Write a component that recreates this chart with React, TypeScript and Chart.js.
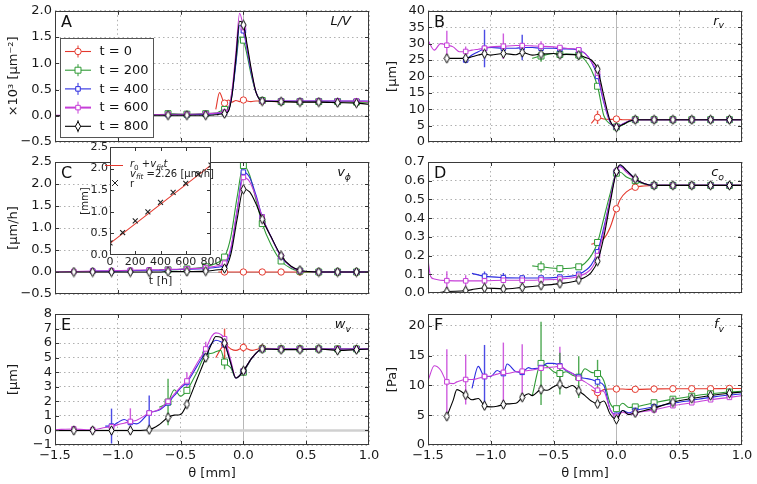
import React, { useEffect, useRef } from 'react';
import { Chart, registerables } from 'chart.js';

Chart.register(...registerables);

const FONT = '"DejaVu Sans", "Noto Sans", sans-serif';
const WIDTH = 757;
const HEIGHT = 484;
const n = null;

// ---------- series meta ----------
const SERIES_LABELS = ['t = 0', 't = 200', 't = 400', 't = 600', 't = 800'];
const SERIES_COLORS = ['#e4382d', '#2f9a35', '#2b2be0', '#c63fd8', '#000000'];
const SERIES_MARKERS = ['circle', 'rect', 'rect', 'rect', 'thinDiamond'];
const SERIES_MARKER_SIZE = [3.2, 4.2, 3.2, 3.2, 4];

// ---------- Panel A : L/V ----------
const XA = [-1.5, -1.35, -1.2, -1.05, -0.9, -0.75, -0.6, -0.45, -0.3, -0.22, -0.19, -0.15, -0.12, -0.09, -0.06, -0.03, 0, 0.03, 0.06, 0.1, 0.15, 0.3, 0.45, 0.6, 0.75, 0.9, 1.0];
const A_T0 = [n, n, n, n, n, n, n, n, n, 0.12, 0.44, 0.24, 0.3, 0.26, 0.29, 0.27, 0.3, 0.28, 0.27, 0.28, 0.28, 0.27, 0.27, 0.27, 0.27, 0.27, 0.27];
const A_T200 = [n, n, n, n, n, n, 0.04, 0.03, 0.04, 0.05, 0.08, 0.12, 0.15, 0.45, 1.0, 1.5, 1.44, 1.15, 0.8, 0.45, 0.29, 0.27, 0.27, 0.27, 0.27, 0.26, 0.26];
const A_T400 = [n, n, n, 0.01, 0.01, 0.02, 0.02, 0.02, 0.03, 0.04, 0.05, 0.06, 0.1, 0.4, 1.0, 1.72, 1.62, 1.25, 0.85, 0.45, 0.28, 0.28, 0.28, 0.28, 0.28, 0.28, 0.28];
const A_T600 = [0.01, 0.01, 0.01, 0.02, 0.02, 0.02, 0.03, 0.03, 0.04, 0.05, 0.06, 0.07, 0.12, 0.5, 1.2, 1.95, 1.68, 1.3, 0.9, 0.45, 0.28, 0.28, 0.28, 0.28, 0.28, 0.28, 0.27];
const A_T800 = [0, 0, 0, 0, 0.01, 0.01, 0.01, 0.01, 0.01, 0.02, 0.03, 0.04, 0.08, 0.4, 1.1, 1.8, 1.73, 1.35, 0.92, 0.45, 0.28, 0.27, 0.26, 0.26, 0.25, 0.24, 0.22];

// ---------- Panel B : r_v ----------
const XB = [-1.5, -1.45, -1.4, -1.35, -1.3, -1.25, -1.2, -1.15, -1.1, -1.05, -1.0, -0.9, -0.8, -0.75, -0.67, -0.6, -0.5, -0.45, -0.4, -0.3, -0.25, -0.2, -0.15, -0.1, -0.05, 0, 0.05, 0.1, 0.15, 0.3, 0.45, 0.6, 0.75, 0.9, 1.0];
const B_T0 = [n, n, n, n, n, n, n, n, n, n, n, n, n, n, n, n, n, n, n, n, n, 5.7, 7.5, 7.0, 6.9, 7.0, 6.8, 6.8, 6.8, 6.8, 6.8, 6.8, 6.8, 6.8, 6.8];
const B_T200 = [n, n, n, n, n, n, n, n, n, n, n, n, n, n, 25.5, 26.2, 27.0, 26.7, 26.8, 26.5, 25.0, 22.0, 17.0, 8.0, 5.5, 4.6, 5.2, 6.2, 6.8, 6.8, 6.8, 6.8, 6.8, 6.8, 6.8];
const B_T400 = [n, n, n, n, n, n, 25.0, 26.5, 27.5, 28.5, 28.8, 28.6, 28.6, 28.8, 28.8, 28.6, 28.6, 28.4, 28.4, 28.0, 27.0, 24.5, 20.0, 12.0, 6.0, 4.6, 5.5, 6.4, 6.8, 6.8, 6.8, 6.8, 6.8, 6.8, 6.8];
const B_T600 = [31, 28, 30, 29.5, 29, 27.5, 27.6, 28, 28.3, 28.6, 29, 29.2, 29.4, 29.4, 29.3, 29.2, 29, 28.8, 28.6, 28.1, 27.0, 24.5, 21.0, 12.5, 6.2, 4.6, 5.5, 6.4, 6.8, 6.8, 6.8, 6.8, 6.8, 6.8, 6.8];
const B_T800 = [n, n, n, 25.5, 25.5, 25.5, 25.5, 26, 26.5, 26.9, 26.5, 27, 26.6, 27.3, 26.5, 26.8, 27, 26.6, 26.7, 26.5, 25.8, 25, 22.2, 14, 6.5, 4.5, 5.3, 6.3, 6.8, 6.8, 6.8, 6.8, 6.8, 6.8, 6.8];
// error bars: [series index, theta, half width]
const B_ERR = [[3, -1.5, 6], [3, -1.35, 4.4], [3, -1.2, 1.5], [2, -1.05, 5.7], [3, -0.9, 3.9], [2, -0.75, 3.9], [1, -0.6, 1.7], [3, -0.6, 1.5], [1, -0.45, 1.2], [1, -0.3, 1.5], [0, -0.15, 2.0]];

// ---------- Panel C : v_phi ----------
const XC = [-1.5, -1.35, -1.2, -1.05, -0.9, -0.75, -0.67, -0.6, -0.45, -0.3, -0.2, -0.15, -0.1, -0.05, 0, 0.05, 0.1, 0.15, 0.22, 0.3, 0.38, 0.45, 0.52, 0.6, 0.75, 0.9, 1.0];
const C_T0 = [n, n, n, n, n, n, n, n, n, n, 0, 0, 0, 0, 0, 0, 0, 0, 0, 0, 0, 0, 0, 0, 0, 0, 0];
const C_T200 = [n, n, n, n, n, n, 0.05, 0.05, 0.07, 0.12, 0.22, 0.34, 0.8, 1.7, 2.42, 2.2, 1.65, 1.1, 0.62, 0.25, 0.08, 0.02, 0, 0, 0, 0, 0];
const C_T400 = [n, n, 0.02, 0.02, 0.03, 0.04, 0.04, 0.05, 0.06, 0.08, 0.11, 0.15, 0.5, 1.4, 2.27, 2.15, 1.75, 1.25, 0.8, 0.35, 0.12, 0.03, 0.01, 0, 0, 0, 0];
const C_T600 = [0, 0.01, 0.02, 0.03, 0.04, 0.05, 0.05, 0.06, 0.07, 0.1, 0.14, 0.2, 0.55, 1.4, 2.15, 2.05, 1.7, 1.25, 0.8, 0.36, 0.12, 0.03, 0.01, 0, 0, 0, 0];
const C_T800 = [0, 0, 0, 0, 0, 0, 0, 0.01, 0.01, 0.02, 0.05, 0.08, 0.4, 1.2, 1.88, 1.82, 1.55, 1.2, 0.8, 0.37, 0.13, 0.04, 0.01, 0, 0, 0, 0];
const C_ERR: number[][] = [];

// ---------- Panel D : c_o ----------
const XD = [-1.5, -1.48, -1.45, -1.35, -1.2, -1.15, -1.05, -0.9, -0.75, -0.67, -0.6, -0.45, -0.3, -0.2, -0.15, -0.1, -0.05, 0, 0.03, 0.08, 0.15, 0.22, 0.3, 0.45, 0.6, 0.75, 0.9, 1.0];
const D_T0 = [n, n, n, n, n, n, n, n, n, n, n, n, n, 0.26, 0.27, 0.29, 0.35, 0.45, 0.5, 0.54, 0.565, 0.572, 0.575, 0.575, 0.575, 0.575, 0.575, 0.575];
const D_T200 = [n, n, n, n, n, n, n, n, n, 0.145, 0.14, 0.13, 0.14, 0.2, 0.27, 0.4, 0.53, 0.64, 0.645, 0.62, 0.6, 0.582, 0.575, 0.575, 0.575, 0.575, 0.575, 0.575];
const D_T400 = [n, n, n, n, n, 0.105, 0.09, 0.082, 0.08, 0.08, 0.08, 0.085, 0.1, 0.15, 0.22, 0.35, 0.5, 0.65, 0.68, 0.655, 0.61, 0.585, 0.575, 0.575, 0.575, 0.575, 0.575, 0.575];
const D_T600 = [0.18, 0.09, 0.075, 0.066, 0.065, 0.065, 0.065, 0.068, 0.068, 0.068, 0.07, 0.075, 0.09, 0.13, 0.2, 0.33, 0.5, 0.65, 0.675, 0.645, 0.61, 0.585, 0.575, 0.575, 0.575, 0.575, 0.575, 0.575];
const D_T800 = [0, 0, 0, 0.008, 0.012, 0.018, 0.027, 0.022, 0.03, 0.035, 0.04, 0.05, 0.07, 0.11, 0.17, 0.3, 0.48, 0.65, 0.685, 0.655, 0.61, 0.585, 0.575, 0.575, 0.575, 0.575, 0.575, 0.575];
const D_ERR = [[3, -1.35, 0.05], [3, -1.2, 0.03], [2, -1.05, 0.025], [2, -0.9, 0.025], [2, -0.75, 0.015], [1, -0.6, 0.03], [1, -0.45, 0.02]];

// ---------- Panel E : w_v ----------
const XE = [-1.5, -1.35, -1.25, -1.2, -1.1, -1.05, -1.0, -0.95, -0.9, -0.85, -0.75, -0.67, -0.6, -0.55, -0.5, -0.45, -0.37, -0.3, -0.25, -0.22, -0.18, -0.15, -0.1, -0.06, 0, 0.07, 0.15, 0.3, 0.45, 0.6, 0.75, 0.9, 1.0];
const E_T0 = [n, n, n, n, n, n, n, n, n, n, n, n, n, n, n, n, n, n, n, 5.0, 5.6, 5.9, 5.6, 5.5, 5.7, 5.5, 5.65, 5.6, 5.6, 5.6, 5.6, 5.6, 5.6];
const E_T200 = [n, n, n, n, n, n, n, n, n, n, n, 1.6, 1.95, 2.8, 2.35, 2.75, 4.0, 5.2, 5.3, 5.4, 5.5, 4.7, 4.3, 3.6, 4.0, 5.0, 5.6, 5.6, 5.6, 5.6, 5.6, 5.6, 5.6];
const E_T400 = [n, n, n, n, 0.3, 0.3, 0.55, 0.75, 0.55, 0.45, 1.2, 1.4, 1.9, 2.4, 2.9, 3.3, 4.4, 5.4, 6.0, 6.2, 6.1, 5.9, 4.6, 3.6, 4.1, 5.0, 5.6, 5.6, 5.6, 5.6, 5.6, 5.6, 5.6];
const E_T600 = [0.05, 0.1, 0.05, 0.05, 0.2, 0.25, 0.4, 0.5, 0.62, 0.7, 1.2, 1.45, 2.0, 2.5, 3.0, 3.4, 4.6, 5.6, 6.5, 6.7, 6.6, 6.3, 4.8, 3.6, 4.1, 5.0, 5.6, 5.6, 5.6, 5.6, 5.6, 5.6, 5.6];
const E_T800 = [0, 0, 0, 0, 0, 0, 0, 0, 0, 0, 0.05, 0.4, 0.9, 1.05, 1.1, 1.8, 3.5, 5.0, 6.0, 6.45, 6.4, 6.0, 4.6, 3.6, 4.1, 5.0, 5.6, 5.55, 5.55, 5.6, 5.5, 5.55, 5.6];
const E_ERR = [[2, -1.05, 1.2], [3, -0.9, 0.9], [2, -0.75, 1.2], [1, -0.6, 1.6], [3, -0.45, 0.6], [3, -0.3, 0.5], [1, -0.3, 0.5], [1, -0.15, 0.5], [0, -0.15, 1.1], [0, 0, 0.3]];

// ---------- Panel F : f_v ----------
const XF = [-1.5, -1.45, -1.4, -1.35, -1.3, -1.27, -1.2, -1.15, -1.1, -1.05, -1.0, -0.95, -0.9, -0.87, -0.8, -0.75, -0.7, -0.67, -0.6, -0.55, -0.5, -0.45, -0.4, -0.35, -0.3, -0.25, -0.2, -0.15, -0.1, -0.05, 0, 0.05, 0.1, 0.15, 0.3, 0.45, 0.6, 0.75, 0.9, 1.0];
const F_T0 = [n, n, n, n, n, n, n, n, n, n, n, n, n, n, n, n, n, n, n, n, n, n, n, n, n, n, 9.3, 8.8, 9.3, 9.4, 9.4, 9.4, 9.35, 9.35, 9.4, 9.45, 9.45, 9.45, 9.5, 9.5];
const F_T200 = [n, n, n, n, n, n, n, n, n, n, n, n, n, n, n, n, n, 8.3, 13.7, 13.2, 12.3, 12.0, 12.3, 11.7, 11.4, 12.8, 12.2, 12.0, 10.8, 7.0, 6.1, 7.0, 6.3, 6.4, 7.1, 7.7, 8.2, 8.6, 8.9, 9.0];
const F_T400 = [n, n, n, n, n, n, n, 9.5, 13.2, 11.5, 11.5, 12.5, 12.0, 13.6, 12.3, 12.2, 13.0, 12.8, 13.0, 13.7, 13.7, 13.3, 12.5, 12.0, 11.4, 11.2, 11.0, 10.6, 10.0, 6.0, 5.0, 5.8, 5.4, 5.8, 6.4, 7.0, 7.5, 8.0, 8.4, 8.6];
const F_T600 = [10.8, 13.3, 12.6, 10.6, 10.3, 10.6, 11.0, 11.0, 11.2, 11.5, 11.6, 11.9, 12.2, 12.0, 12.3, 12.4, 12.5, 12.6, 12.9, 13.0, 13.1, 13.2, 12.6, 12.0, 11.2, 10.6, 9.9, 9.2, 9.0, 6.0, 4.8, 5.5, 5.2, 5.4, 5.9, 6.6, 7.1, 7.6, 8.0, 8.3];
const F_T800 = [n, n, n, 4.8, 7.5, 9.3, 8.4, 7.6, 7.8, 6.6, 6.4, 6.5, 6.8, 6.9, 7.0, 8.0, 8.6, 8.3, 9.3, 9.2, 9.8, 10.2, 9.6, 10.0, 9.1, 8.3, 7.4, 6.9, 7.4, 5.2, 4.3, 5.8, 5.1, 5.4, 6.2, 7.2, 7.8, 8.3, 8.7, 8.9];
const F_ERR = [[3, -1.5, 6.1], [3, -1.35, 5.5], [3, -1.2, 4.2], [2, -1.05, 5.3], [3, -0.9, 5], [3, -0.75, 4.5], [1, -0.6, 7], [3, -0.45, 3.3], [1, -0.45, 3.5], [1, -0.3, 3.5], [1, -0.15, 2.3], [0, -0.15, 1]];

// ---------- Inset : front position vs time ----------
const INSET_T = [0, 100, 200, 300, 400, 500, 600, 700, 800];
const INSET_R = [0.28, 0.52, 0.79, 1.0, 1.22, 1.45, 1.66, 1.87, 2.08];
const FIT_T = [0, 800];
const FIT_R = [0.27, 2.08];
const FIT_VELOCITY = '2.26';

// ---------- labels ----------
type Part = { t: string; it?: boolean; sub?: boolean };
const TAG_A: Part[] = [{ t: 'L/V', it: true }];
const TAG_B: Part[] = [{ t: 'r', it: true }, { t: 'v', it: true, sub: true }];
const TAG_C: Part[] = [{ t: 'v', it: true }, { t: 'ϕ', it: true, sub: true }];
const TAG_D: Part[] = [{ t: 'c', it: true }, { t: 'o', it: true, sub: true }];
const TAG_E: Part[] = [{ t: 'w', it: true }, { t: 'v', it: true, sub: true }];
const TAG_F: Part[] = [{ t: 'f', it: true }, { t: 'v', it: true, sub: true }];

const PANELS = [
  { rect: [55, 9, 369, 142], yW: 55, x: XA, series: [A_T0, A_T200, A_T400, A_T600, A_T800], yMin: -0.5, yMax: 2.0, yStep: 0.5, dec: 1, title: '×10³ [µm⁻²]', letter: 'A', tag: TAG_A, zeroY: 1, err: [] as number[][], legend: true, xLabels: false },
  { rect: [428, 9, 742, 142], yW: 49, x: XB, series: [B_T0, B_T200, B_T400, B_T600, B_T800], yMin: 0, yMax: 40, yStep: 5, dec: 0, title: '[µm]', letter: 'B', tag: TAG_B, zeroY: 0, err: B_ERR, legend: false, xLabels: false },
  { rect: [55, 162, 369, 294], yW: 55, x: XC, series: [C_T0, C_T200, C_T400, C_T600, C_T800], yMin: -0.5, yMax: 2.5, yStep: 0.5, dec: 1, title: '[µm/h]', letter: 'C', tag: TAG_C, zeroY: 1, err: C_ERR, legend: false, xLabels: false },
  { rect: [428, 162, 742, 293], yW: 49, x: XD, series: [D_T0, D_T200, D_T400, D_T600, D_T800], yMin: 0, yMax: 0.7, yStep: 0.1, dec: 1, title: '', letter: 'D', tag: TAG_D, zeroY: 0, err: D_ERR, legend: false, xLabels: false },
  { rect: [55, 314, 369, 445], yW: 55, x: XE, series: [E_T0, E_T200, E_T400, E_T600, E_T800], yMin: -1, yMax: 8, yStep: 1, dec: 0, title: '[µm]', letter: 'E', tag: TAG_E, zeroY: 2.5, err: E_ERR, legend: false, xLabels: true },
  { rect: [428, 314, 742, 445], yW: 49, x: XF, series: [F_T0, F_T200, F_T400, F_T600, F_T800], yMin: 0, yMax: 22, yStep: 5, dec: 0, title: '[Pa]', letter: 'F', tag: TAG_F, zeroY: 0, err: F_ERR, legend: false, xLabels: true },
];

// ---------- helpers ----------
function fmt(v: number, dec: number) {
  const s = Math.abs(v) < 1e-9 ? (0).toFixed(dec) : v.toFixed(dec);
  return s.replace('-', '\u2212');
}

function isMarkX(x: number) {
  const k = x / 0.15;
  return Math.abs(k - Math.round(k)) < 1e-6 && x > -1.45 && x < 0.95;
}

function thinDiamond(color: string) {
  const c = document.createElement('canvas');
  c.width = 7;
  c.height = 11;
  const g = c.getContext('2d')!;
  g.beginPath();
  g.moveTo(3.5, 0.8);
  g.lineTo(6.1, 5.5);
  g.lineTo(3.5, 10.2);
  g.lineTo(0.9, 5.5);
  g.closePath();
  g.fillStyle = '#fff';
  g.fill();
  g.strokeStyle = color;
  g.lineWidth = 1;
  g.stroke();
  return c;
}

function drawMarker(ctx: CanvasRenderingContext2D, kind: string, size: number, color: string, x: number, y: number) {
  ctx.save();
  ctx.fillStyle = '#fff';
  ctx.strokeStyle = color;
  ctx.lineWidth = 1;
  ctx.beginPath();
  if (kind === 'circle') {
    ctx.arc(x, y, size, 0, Math.PI * 2);
  } else if (kind === 'rect') {
    const h = size * Math.SQRT1_2;
    ctx.rect(x - h, y - h, 2 * h, 2 * h);
  } else {
    ctx.moveTo(x, y - 4.7);
    ctx.lineTo(x + 2.6, y);
    ctx.lineTo(x, y + 4.7);
    ctx.lineTo(x - 2.6, y);
    ctx.closePath();
  }
  ctx.fill();
  ctx.stroke();
  ctx.restore();
}

function drawRich(ctx: CanvasRenderingContext2D, parts: Part[], x: number, y: number, size: number, align: 'left' | 'right', color: string) {
  const fontOf = (p: Part) => `${p.it ? 'italic ' : ''}${p.sub ? size * 0.72 : size}px ${FONT}`;
  ctx.save();
  ctx.fillStyle = color;
  ctx.textBaseline = 'alphabetic';
  ctx.textAlign = 'left';
  let total = 0;
  for (const p of parts) {
    ctx.font = fontOf(p);
    total += ctx.measureText(p.t).width;
  }
  let cx = align === 'right' ? x - total : x;
  for (const p of parts) {
    ctx.font = fontOf(p);
    ctx.fillText(p.t, cx, y + (p.sub ? size * 0.28 : 0));
    cx += ctx.measureText(p.t).width;
  }
  ctx.restore();
}

function drawFrameAndTicks(ctx: CanvasRenderingContext2D, ca: any, xs: any, ys: any) {
  ctx.save();
  ctx.strokeStyle = '#333';
  ctx.lineWidth = 1;
  ctx.beginPath();
  for (const tk of xs.ticks) {
    const px = Math.round(xs.getPixelForValue(tk.value)) + 0.5;
    if (px <= ca.left + 1 || px >= ca.right - 1) continue;
    ctx.moveTo(px, ca.bottom);
    ctx.lineTo(px, ca.bottom - 4);
    ctx.moveTo(px, ca.top);
    ctx.lineTo(px, ca.top + 4);
  }
  for (const tk of ys.ticks) {
    const py = Math.round(ys.getPixelForValue(tk.value)) + 0.5;
    if (py <= ca.top + 1 || py >= ca.bottom - 1) continue;
    ctx.moveTo(ca.left, py);
    ctx.lineTo(ca.left + 4, py);
    ctx.moveTo(ca.right, py);
    ctx.lineTo(ca.right - 4, py);
  }
  ctx.stroke();
  ctx.strokeStyle = '#3a3a3a';
  ctx.strokeRect(Math.round(ca.left) + 0.5, Math.round(ca.top) + 0.5, Math.round(ca.right - ca.left) - 1, Math.round(ca.bottom - ca.top) - 1);
  ctx.restore();
}

function drawMainLegend(ctx: CanvasRenderingContext2D, ca: any) {
  const bx = Math.round(ca.left) + 5.5;
  const by = Math.round(ca.top) + 27.5;
  ctx.save();
  ctx.fillStyle = '#fff';
  ctx.strokeStyle = '#555';
  ctx.lineWidth = 1;
  ctx.fillRect(bx, by, 93, 99);
  ctx.strokeRect(bx, by, 93, 99);
  SERIES_LABELS.forEach((label, i) => {
    const y = by + 13 + i * 18.7;
    const c = SERIES_COLORS[i];
    ctx.strokeStyle = c;
    ctx.lineWidth = i === 3 ? 2 : 1.1;
    ctx.beginPath();
    ctx.moveTo(bx + 4.5, y);
    ctx.lineTo(bx + 30.5, y);
    ctx.stroke();
    ctx.lineWidth = 1;
    ctx.beginPath();
    ctx.moveTo(bx + 17.5, y - 6);
    ctx.lineTo(bx + 17.5, y + 6);
    ctx.stroke();
    drawMarker(ctx, SERIES_MARKERS[i], SERIES_MARKER_SIZE[i], c, bx + 17.5, y);
    ctx.fillStyle = '#111';
    ctx.font = `13px ${FONT}`;
    ctx.textBaseline = 'middle';
    ctx.textAlign = 'left';
    ctx.fillText(label, bx + 39, y + 0.5);
  });
  ctx.restore();
}

function makeDecor(p: any) {
  return {
    id: 'decor',
    beforeDatasetsDraw(chart: any) {
      const { ctx, chartArea: ca, scales } = chart;
      const xs = scales.x;
      const ys = scales.y;
      ctx.save();
      ctx.beginPath();
      ctx.rect(ca.left, ca.top, ca.right - ca.left, ca.bottom - ca.top);
      ctx.clip();
      ctx.strokeStyle = '#b8b8b8';
      ctx.lineWidth = 1;
      const px0 = Math.round(xs.getPixelForValue(0)) + 0.5;
      ctx.beginPath();
      ctx.moveTo(px0, ca.top);
      ctx.lineTo(px0, ca.bottom);
      ctx.stroke();
      if (p.zeroY) {
        ctx.lineWidth = p.zeroY;
        ctx.strokeStyle = p.zeroY > 1 ? '#d0d0d0' : '#b8b8b8';
        const py0 = Math.round(ys.getPixelForValue(0)) + 0.5;
        ctx.beginPath();
        ctx.moveTo(ca.left, py0);
        ctx.lineTo(ca.right, py0);
        ctx.stroke();
      }
      ctx.lineWidth = 1.4;
      ctx.globalAlpha = 0.85;
      for (const [si, xv, hw] of p.err) {
        const j = p.x.findIndex((v: number) => Math.abs(v - xv) < 1e-9);
        const yc = j >= 0 ? p.series[si][j] : null;
        if (yc == null) continue;
        const px = xs.getPixelForValue(xv);
        ctx.strokeStyle = SERIES_COLORS[si];
        ctx.beginPath();
        ctx.moveTo(px, ys.getPixelForValue(yc - hw));
        ctx.lineTo(px, ys.getPixelForValue(yc + hw));
        ctx.stroke();
      }
      ctx.restore();
    },
    afterDraw(chart: any) {
      const { ctx, chartArea: ca, scales } = chart;
      drawFrameAndTicks(ctx, ca, scales.x, scales.y);
      ctx.save();
      ctx.fillStyle = '#111';
      ctx.font = `16px ${FONT}`;
      ctx.textBaseline = 'alphabetic';
      ctx.textAlign = 'left';
      ctx.fillText(p.letter, ca.left + 6, ca.top + 16);
      ctx.restore();
      drawRich(ctx, p.tag, ca.right - 18, ca.top + 14, 13, 'right', '#111');
      if (p.legend) drawMainLegend(ctx, ca);
    },
  };
}

function makePanelChart(canvas: HTMLCanvasElement, p: any) {
  const [l, t, r, b] = p.rect;
  const yW = p.yW;
  const xH = p.xLabels ? 39 : 0;
  const datasets = p.series.map((ys: (number | null)[], i: number) => ({
    label: SERIES_LABELS[i],
    data: p.x.map((x: number, j: number) => ({ x, y: ys[j] })),
    borderColor: SERIES_COLORS[i],
    backgroundColor: SERIES_COLORS[i],
    borderWidth: 1.1,
    pointStyle: SERIES_MARKERS[i] === 'thinDiamond' ? thinDiamond(SERIES_COLORS[i]) : SERIES_MARKERS[i],
    pointRadius: (c: any) => {
      const raw = c.raw;
      return raw && raw.y != null && isMarkX(raw.x) ? SERIES_MARKER_SIZE[i] : 0;
    },
    pointHoverRadius: 0,
    pointBackgroundColor: '#ffffff',
    pointBorderColor: SERIES_COLORS[i],
    pointBorderWidth: 1,
    cubicInterpolationMode: 'monotone',
    spanGaps: false,
    order: 4 - i,
  }));
  const tickFont = { family: FONT, size: 13 };
  return new Chart(canvas, {
    type: 'line',
    data: { datasets },
    plugins: [makeDecor(p)],
    options: {
      animation: false,
      responsive: false,
      maintainAspectRatio: false,
      devicePixelRatio: 1,
      events: [],
      layout: { autoPadding: false, padding: { left: l - yW, top: t, right: WIDTH - r, bottom: HEIGHT - b - xH } },
      plugins: { legend: { display: false }, tooltip: { enabled: false } },
      scales: {
        x: {
          type: 'linear',
          min: -1.5,
          max: 1.0,
          afterFit: (s: any) => { s.height = xH; },
          ticks: { stepSize: 0.5, display: p.xLabels, includeBounds: false, padding: 3, font: tickFont, color: '#1a1a1a', maxRotation: 0, autoSkip: false, callback: (v: any) => fmt(Number(v), 1) },
          grid: { color: '#b0b0b0', lineWidth: 1, drawTicks: false },
          border: { display: false, dash: [1.5, 3] },
          title: { display: p.xLabels, text: 'θ [mm]', font: { family: FONT, size: 13 }, color: '#1a1a1a', padding: { top: 0, bottom: 3 } },
        },
        y: {
          type: 'linear',
          min: p.yMin,
          max: p.yMax,
          afterFit: (s: any) => { s.width = yW; },
          ticks: { stepSize: p.yStep, includeBounds: false, padding: 3, font: tickFont, color: '#1a1a1a', autoSkip: false, callback: (v: any) => fmt(Number(v), p.dec) },
          grid: { color: '#b0b0b0', lineWidth: 1, drawTicks: false },
          border: { display: false, dash: [1.5, 3] },
          title: { display: !!p.title, text: p.title, font: { family: FONT, size: 13 }, color: '#1a1a1a', padding: { top: 6, bottom: 0 } },
        },
      },
    } as any,
  });
}

function makeInset(canvas: HTMLCanvasElement) {
  const L = 110, T = 147, R = 211, B = 255;
  const yW = 31;
  const xH = 33;
  const red = SERIES_COLORS[0];
  const insetDecor = {
    id: 'insetDecor',
    beforeDraw(chart: any) {
      const { ctx, chartArea: ca } = chart;
      ctx.save();
      ctx.fillStyle = '#fff';
      ctx.fillRect(ca.left, ca.top, ca.right - ca.left, ca.bottom - ca.top);
      ctx.restore();
    },
    afterDraw(chart: any) {
      const { ctx, chartArea: ca, scales } = chart;
      drawFrameAndTicks(ctx, ca, scales.x, scales.y);
      ctx.save();
      ctx.strokeStyle = red;
      ctx.lineWidth = 1;
      ctx.beginPath();
      ctx.moveTo(ca.left - 5, ca.top + 18.5);
      ctx.lineTo(ca.left + 13, ca.top + 18.5);
      ctx.stroke();
      ctx.strokeStyle = '#222';
      const mx = ca.left + 5, my = ca.top + 36;
      ctx.beginPath();
      ctx.moveTo(mx - 3, my - 3);
      ctx.lineTo(mx + 3, my + 3);
      ctx.moveTo(mx + 3, my - 3);
      ctx.lineTo(mx - 3, my + 3);
      ctx.stroke();
      ctx.restore();
      const tx = ca.left + 20;
      drawRich(ctx, [{ t: 'r', it: true }, { t: '0', sub: true }, { t: ' +' }, { t: 'v', it: true }, { t: 'fit', it: true, sub: true }, { t: 't', it: true }], tx, ca.top + 20, 10, 'left', '#222');
      drawRich(ctx, [{ t: 'v', it: true }, { t: 'fit', it: true, sub: true }, { t: ' =' + FIT_VELOCITY + ' [µm/h]' }], tx, ca.top + 29.5, 10, 'left', '#222');
      drawRich(ctx, [{ t: 'r' }], tx, ca.top + 39.5, 10, 'left', '#222');
    },
  };
  const tickFont = { family: FONT, size: 11 };
  return new Chart(canvas, {
    type: 'scatter',
    data: {
      datasets: [
        {
          label: 'r',
          data: INSET_T.map((t, i) => ({ x: t, y: INSET_R[i] })),
          showLine: false,
          pointStyle: 'crossRot',
          pointRadius: 3.5,
          pointHoverRadius: 0,
          pointBorderColor: '#222',
          pointBorderWidth: 1.1,
          order: 0,
        },
        {
          label: 'fit',
          data: FIT_T.map((t, i) => ({ x: t, y: FIT_R[i] })),
          showLine: true,
          borderColor: red,
          borderWidth: 1.1,
          pointRadius: 0,
          pointHoverRadius: 0,
          order: 1,
        },
      ],
    },
    plugins: [insetDecor],
    options: {
      animation: false,
      responsive: false,
      maintainAspectRatio: false,
      devicePixelRatio: 1,
      events: [],
      layout: { autoPadding: false, padding: { left: L - yW, top: T, right: WIDTH - R, bottom: HEIGHT - B - xH } },
      plugins: { legend: { display: false }, tooltip: { enabled: false } },
      scales: {
        x: {
          type: 'linear',
          min: 0,
          max: 800,
          afterFit: (s: any) => { s.height = xH; },
          ticks: { stepSize: 200, includeBounds: false, padding: 1, font: tickFont, color: '#222', maxRotation: 0, autoSkip: false },
          grid: { display: false, drawTicks: false },
          border: { display: false },
          title: { display: true, text: 't [h]', font: { family: FONT, size: 11 }, color: '#222', padding: { top: 0, bottom: 0 } },
        },
        y: {
          type: 'linear',
          min: 0,
          max: 2.5,
          afterFit: (s: any) => { s.width = yW; },
          ticks: { stepSize: 0.5, includeBounds: false, padding: 2, font: tickFont, color: '#222', autoSkip: false, callback: (v: any) => fmt(Number(v), 1) },
          grid: { display: false, drawTicks: false },
          border: { display: false },
          title: { display: true, text: '[mm]', font: { family: FONT, size: 10 }, color: '#222', padding: { top: 0, bottom: 0 } },
        },
      },
    } as any,
  });
}

export default function App() {
  const refs = useRef<(HTMLCanvasElement | null)[]>([]);
  useEffect(() => {
    const charts: Chart[] = PANELS.map((p, i) => makePanelChart(refs.current[i]!, p));
    charts.push(makeInset(refs.current[PANELS.length]!));
    return () => charts.forEach((c) => c.destroy());
  }, []);
  const count = PANELS.length + 1;
  return (
    <div style={{ position: 'absolute', left: 0, top: 0, width: WIDTH, height: HEIGHT, background: '#fff', overflow: 'hidden' }}>
      {Array.from({ length: count }, (_, i) => (
        <canvas
          key={i}
          ref={(el) => { refs.current[i] = el; }}
          width={WIDTH}
          height={HEIGHT}
          style={{ position: 'absolute', left: 0, top: 0, width: WIDTH, height: HEIGHT }}
        />
      ))}
    </div>
  );
}
